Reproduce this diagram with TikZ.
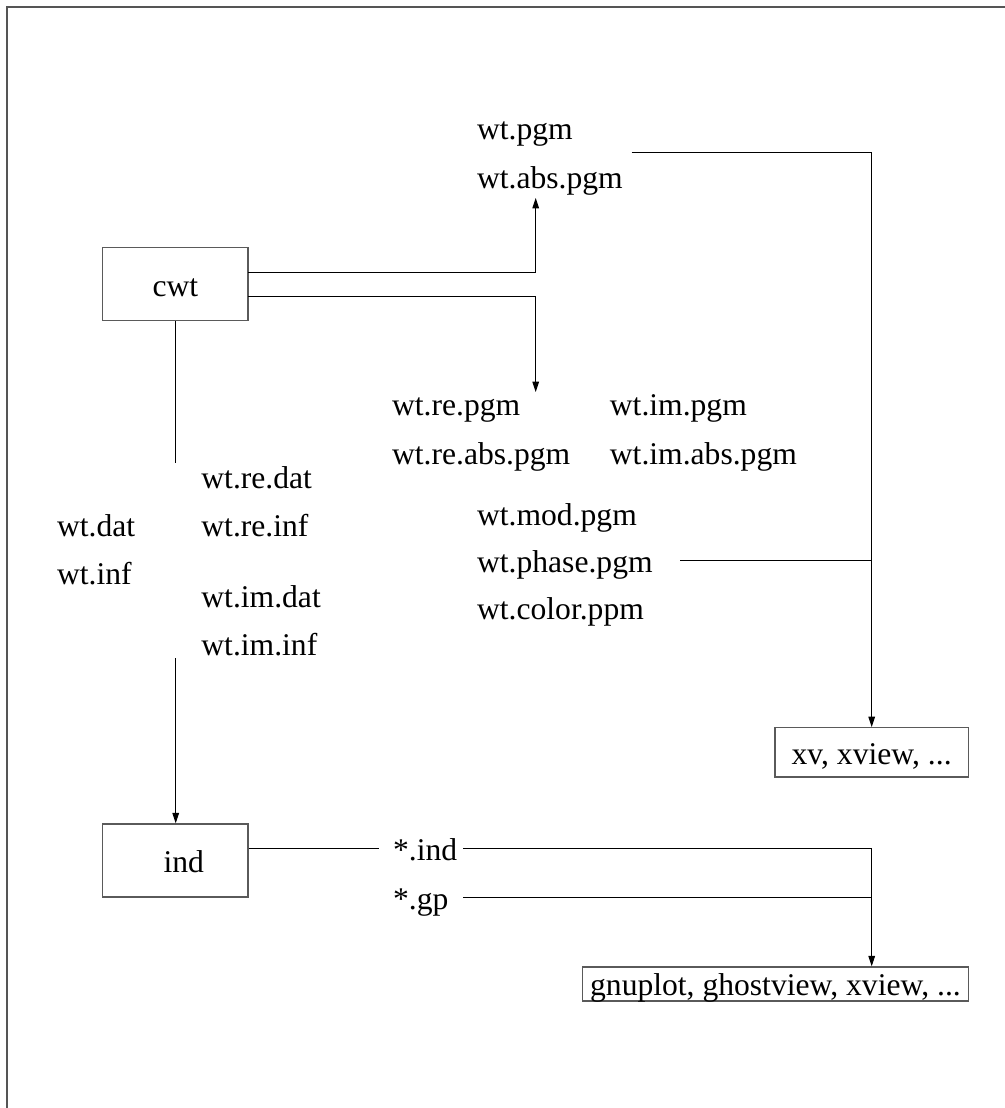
\documentclass[tikz,border=0pt]{standalone}
\usepackage{fontspec}
\setmainfont{Liberation Serif}
\usetikzlibrary{arrows.meta}
\definecolor{boxgray}{HTML}{5A5A5A}
\definecolor{framegray}{HTML}{555555}
\begin{document}
\begin{tikzpicture}[x=0.5pt,y=-0.5pt,
  lbl/.style={anchor=base west, inner sep=0pt, font=\fontsize{15.8pt}{19pt}\selectfont},
  box/.style={draw=boxgray, line width=0.65pt, inner sep=0pt, text height=11.8pt, text depth=0pt,
              font=\fontsize{15.8pt}{19pt}\selectfont},
  conn/.style={line width=0.5pt, draw=black},
  arr/.style={conn, -{Triangle[length=5.2pt,width=3.3pt]}}]
\useasboundingbox (0,0) rectangle (1005,1108);
\draw[draw=framegray, line width=1pt] (7,1108) -- (7,7) -- (1005,7);

% boxes
\node[box, minimum width=72.65pt, minimum height=36.5pt] (cwt) at (175.35,284.2) {cwt};
\node[box, minimum width=72.65pt, minimum height=36.5pt] (ind) at (175.35,860.5) {\hspace{8.4pt}ind};
\node[box, minimum width=96.65pt, minimum height=24.65pt] (xv) at (871.65,752.35) {xv, xview, ...};
\node[box, minimum width=192.8pt, minimum height=17pt] (gp) at (775.5,984) {gnuplot, ghostview, xview, ...};

% labels
\node[lbl] (pgm) at (476.7,139.3) {wt.pgm};
\node[lbl] (abspgm) at (476.7,188.3) {wt.abs.pgm};
\node[lbl] (repgm) at (391.7,415) {wt.re.pgm};
\node[lbl] (reabspgm) at (391.7,464) {wt.re.abs.pgm};
\node[lbl] (impgm) at (609.5,415) {wt.im.pgm};
\node[lbl] (imabspgm) at (609.5,464) {wt.im.abs.pgm};
\node[lbl] (redat) at (201,488.3) {wt.re.dat};
\node[lbl] (reinf) at (201,536) {wt.re.inf};
\node[lbl] (imdat) at (201,607.7) {wt.im.dat};
\node[lbl] (iminf) at (201,655) {wt.im.inf};
\node[lbl] (dat) at (56.7,536) {wt.dat};
\node[lbl] (inf) at (56.7,584) {wt.inf};
\node[lbl] (modpgm) at (476.7,525) {wt.mod.pgm};
\node[lbl] (phasepgm) at (476.7,572.5) {wt.phase.pgm};
\node[lbl] (colorppm) at (476.7,619.5) {wt.color.ppm};
\node[lbl] (sind) at (392.7,860) {*.ind};
\node[lbl] (sgp) at (392.7,909.5) {*.gp};

% free ends
\coordinate (upA) at (248,272.3);
\coordinate (upB) at (535.7,198);
\coordinate (dnA) at (248,296.3);
\coordinate (dnB) at (535.7,392);
\coordinate (cwtdownend) at (175.7,463);
\coordinate (indupstart) at (175.7,658);
\coordinate (pgmstart) at (631.7,152);
\coordinate (phasestart) at (680,560);
\coordinate (sindend) at (379,848.3);
\coordinate (sindstart) at (463,848.3);
\coordinate (sgpstart) at (463,897);
\coordinate (rtop) at (871.7,152);

% connectors
\draw[arr] (upA) -| (upB);
\draw[arr] (dnA) -| (dnB);
\draw[conn] (cwt.south -| cwtdownend) -- (cwtdownend);
\draw[arr] (indupstart) -- (ind.north -| indupstart);
\draw[conn] (pgmstart) -- (rtop);
\draw[arr] (rtop) -- (xv.north -| rtop);
\draw[conn] (phasestart) -- (phasestart -| rtop);
\draw[conn] (ind.east |- sindend) -- (sindend);
\draw[arr] (sindstart) -| (gp.north -| rtop);
\draw[conn] (sgpstart) -- (sgpstart -| rtop);
\end{tikzpicture}
\end{document}
